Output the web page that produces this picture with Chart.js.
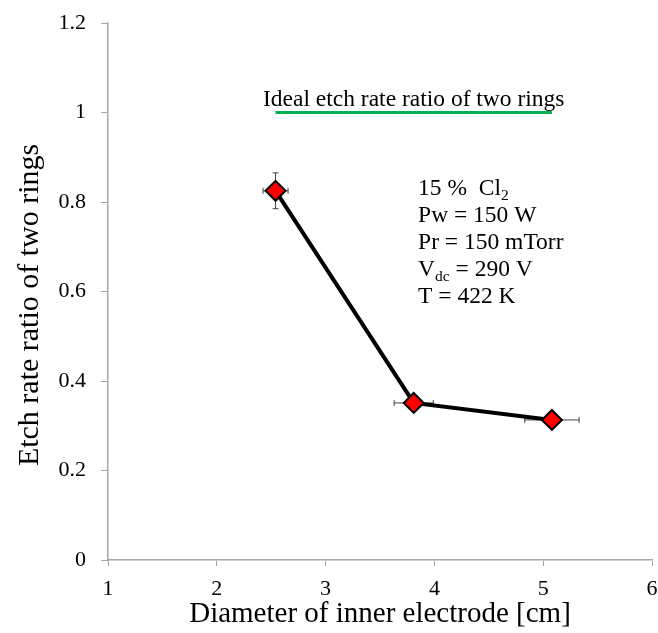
<!DOCTYPE html>
<html>
<head>
<meta charset="utf-8">
<script src="https://cdn.jsdelivr.net/npm/chart.js@4/dist/chart.umd.min.js"></script>
<style>
    html, body { margin: 0; padding: 0; overflow: hidden; background: #fff; }
    canvas { display: block; }
</style>
</head>
<body>
<canvas id="graphique_etch" width="658" height="633"></canvas>
<script>
// DONNEES : diametre de l'electrode interne (cm) et rapport de vitesse de gravure
const diametres = [2.54, 3.81, 5.08];
const rapports = [0.825, 0.351, 0.313];
const erreursX = [0.115, 0.18, 0.25];
const erreursY = [0.04, 0.012, 0.012];

// LIGNE VERTE : rapport ideal
const idealX = [2.54, 5.08];
const idealY = [1, 1];

// ETIQUETTES DES AXES
const xTickLabels = ['1', '2', '3', '4', '5', '6'];
const yTickLabels = ['0', '0.2', '0.4', '0.6', '0.8', '1', '1.2'];

// CONDITIONS EXPERIMENTALES (texte, indice, suite)
const conditions = [
    ['15 %  Cl', '2', ''],
    ['Pw = 150 W', '', ''],
    ['Pr = 150 mTorr', '', ''],
    ['V', 'dc', ' = 290 V'],
    ['T = 422 K', '', '']
];

(function () {

    const serif = '"Liberation Serif", "Times New Roman", serif';

    // BARRES D'ERREUR (dessinees sous les marqueurs)
    const errorBars = {
        id: 'errorBars',
        beforeDatasetsDraw(chart) {
            const ctx = chart.ctx;
            const sx = chart.scales.x;
            const sy = chart.scales.y;
            const cap = 3;
            ctx.save();
            ctx.strokeStyle = '#404040';
            ctx.lineWidth = 1;
            diametres.forEach(function (d, i) {
                const px = sx.getPixelForValue(d);
                const py = sy.getPixelForValue(rapports[i]);
                const x0 = sx.getPixelForValue(d - erreursX[i]);
                const x1 = sx.getPixelForValue(d + erreursX[i]);
                const y0 = sy.getPixelForValue(rapports[i] + erreursY[i]);
                const y1 = sy.getPixelForValue(rapports[i] - erreursY[i]);
                ctx.beginPath();
                ctx.moveTo(x0, py); ctx.lineTo(x1, py);
                ctx.moveTo(x0, py - cap); ctx.lineTo(x0, py + cap);
                ctx.moveTo(x1, py - cap); ctx.lineTo(x1, py + cap);
                ctx.moveTo(px, y0); ctx.lineTo(px, y1);
                ctx.moveTo(px - cap, y0); ctx.lineTo(px + cap, y0);
                ctx.moveTo(px - cap, y1); ctx.lineTo(px + cap, y1);
                ctx.stroke();
            });
            ctx.restore();
        }
    };

    // TEXTES DANS LE GRAPHIQUE + TITRE DE L'AXE Y
    const annotations = {
        id: 'annotations',
        afterDatasetsDraw(chart) {
            const ctx = chart.ctx;
            const sx = chart.scales.x;
            const sy = chart.scales.y;
            ctx.save();
            ctx.fillStyle = '#000';
            ctx.textBaseline = 'alphabetic';

            // titre de la ligne ideale
            ctx.font = '23.5px ' + serif;
            ctx.textAlign = 'center';
            const cx = (sx.getPixelForValue(idealX[0]) + sx.getPixelForValue(idealX[1])) / 2;
            ctx.fillText('Ideal etch rate ratio of two rings', cx, sy.getPixelForValue(1) - 7);

            // bloc des conditions
            ctx.textAlign = 'left';
            const left = sx.getPixelForValue(3.85);
            let base = sy.getPixelForValue(0.816);
            conditions.forEach(function (ligne) {
                let x = left;
                ctx.font = '23.5px ' + serif;
                ctx.fillText(ligne[0], x, base);
                x += ctx.measureText(ligne[0]).width;
                if (ligne[1]) {
                    ctx.font = '15.5px ' + serif;
                    ctx.fillText(ligne[1], x, base + 5);
                    x += ctx.measureText(ligne[1]).width;
                }
                if (ligne[2]) {
                    ctx.font = '23.5px ' + serif;
                    ctx.fillText(ligne[2], x, base);
                }
                base += 27;
            });

            // titre vertical
            ctx.translate(30, sy.getPixelForValue(0.57));
            ctx.rotate(-Math.PI / 2);
            ctx.textAlign = 'center';
            ctx.textBaseline = 'middle';
            ctx.font = '30px ' + serif;
            ctx.fillText('Etch rate ratio of two rings', 0, 0);
            ctx.restore();
        }
    };

    const graph = document.getElementById('graphique_etch').getContext('2d');

    new Chart(graph, {
        type: 'scatter',
        data: {
            datasets: [{
                label: 'ratio',
                data: diametres.map((d, i) => ({ x: d, y: rapports[i] })),
                showLine: true,
                borderColor: '#000',
                borderWidth: 4,
                pointStyle: 'rectRot',
                pointRadius: 10,
                pointHoverRadius: 10,
                pointBackgroundColor: '#ff0000',
                pointBorderColor: '#000',
                pointBorderWidth: 2,
                order: 1
            }, {
                label: 'ideal',
                data: idealX.map((d, i) => ({ x: d, y: idealY[i] })),
                showLine: true,
                borderColor: '#00b050',
                borderWidth: 3,
                pointRadius: 0,
                order: 2
            }]
        },
        options: {
            responsive: false,
            animation: false,
            layout: {
                autoPadding: false,
                padding: { top: 23, right: 6, left: 0, bottom: 0 }
            },
            plugins: {
                legend: { display: false },
                tooltip: { enabled: false }
            },
            scales: {
                x: {
                    type: 'linear',
                    min: 1,
                    max: 6,
                    afterFit: function (scale) {
                        scale.height = 73;
                        scale.paddingLeft = 0;
                        scale.paddingRight = 0;
                    },
                    ticks: {
                        stepSize: 1,
                        padding: 10,
                        color: '#000',
                        font: { family: serif, size: 22 },
                        callback: (v, i) => xTickLabels[i]
                    },
                    grid: {
                        drawOnChartArea: false,
                        tickLength: 6,
                        color: '#a6a6a6'
                    },
                    border: { color: '#a6a6a6', width: 1.5 },
                    title: {
                        display: true,
                        text: 'Diameter of inner electrode [cm]',
                        color: '#000',
                        font: { family: serif, size: 29, lineHeight: 1.2 },
                        padding: { top: 0, bottom: 1 }
                    }
                },
                y: {
                    min: 0,
                    max: 1.2,
                    afterFit: function (scale) {
                        scale.width = 108;
                        scale.paddingTop = 0;
                        scale.paddingBottom = 0;
                    },
                    ticks: {
                        stepSize: 0.2,
                        padding: 15,
                        color: '#000',
                        font: { family: serif, size: 22 },
                        callback: (v, i) => yTickLabels[i]
                    },
                    grid: {
                        drawOnChartArea: false,
                        tickLength: 7,
                        color: '#a6a6a6'
                    },
                    border: { color: '#a6a6a6', width: 1.5 }
                }
            }
        },
        plugins: [errorBars, annotations]
    });

})();
</script>
</body>
</html>
